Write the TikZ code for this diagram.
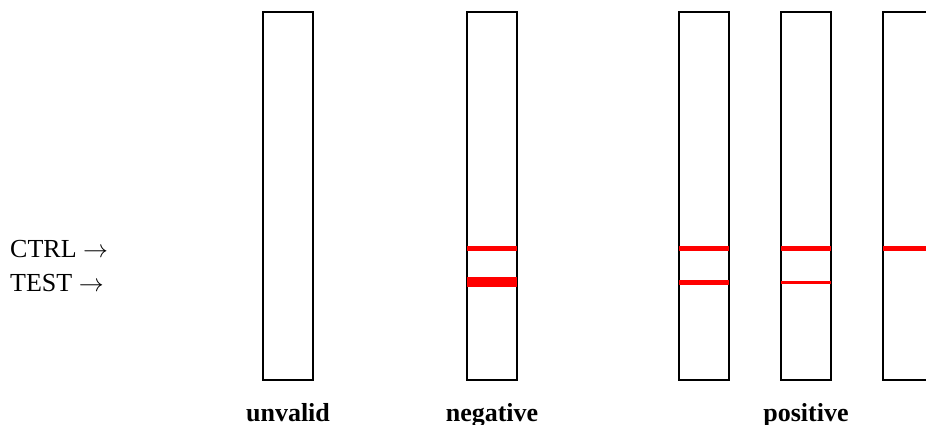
\documentclass[tikz,border=0pt]{standalone}
\usepackage{fontspec}
\setmainfont{Liberation Serif}
\begin{document}
\begin{tikzpicture}[x=1pt,y=-1pt,
  strip/.style={draw=black,line width=2pt,minimum width=50pt,minimum height=368pt,inner sep=0pt},
  band/.style={draw=red,line width=#1},
  band/.default=5pt,
  lbl/.style={font=\fontsize{26}{30}\selectfont,inner sep=0pt},
  res/.style={font=\fontsize{26}{30}\selectfont\bfseries,inner sep=0pt,anchor=base}]
\useasboundingbox (0,0) rectangle (926,425);
\clip (0,0) rectangle (926,425);
% test strips
\node[strip] (s1) at (288,196) {};
\node[strip] (s2) at (492,196) {};
\node[strip] (s3) at (704,196) {};
\node[strip] (s4) at (806,196) {};
\node[strip] (s5) at (908,196) {};
% line heights
\coordinate (ctrl) at (0,248);
\coordinate (test) at (0,282);
% side labels
\node[lbl,anchor=base west] (lc) at (10,257) {CTRL $\rightarrow$};
\node[lbl,anchor=base west] (lt) at (10,291) {TEST $\rightarrow$};
% negative
\draw[band] ([xshift=1pt]s2.west|-ctrl) -- ([xshift=-1pt]s2.east|-ctrl);
\draw[band=10pt] ([xshift=1pt]s2.west|-test) -- ([xshift=-1pt]s2.east|-test);
% positive
\draw[band] ([xshift=1pt]s3.west|-ctrl) -- ([xshift=-1pt]s3.east|-ctrl);
\draw[band] ([xshift=1pt]s3.west|-test) -- ([xshift=-1pt]s3.east|-test);
\draw[band] ([xshift=1pt]s4.west|-ctrl) -- ([xshift=-1pt]s4.east|-ctrl);
\draw[band=3pt] ([xshift=1pt]s4.west|-test) -- ([xshift=-1pt]s4.east|-test);
\draw[band] ([xshift=1pt]s5.west|-ctrl) -- ([xshift=-1pt]s5.east|-ctrl);
% result labels
\node[res] (r1) at (288,421) {unvalid};
\node[res] (r2) at (492,421) {negative};
\node[res] (r3) at (806,421) {positive};
\end{tikzpicture}
\end{document}
